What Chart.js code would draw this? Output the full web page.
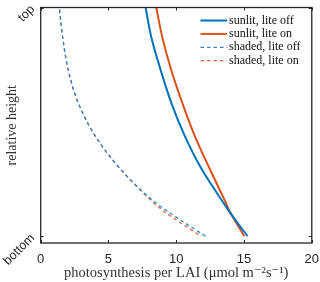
<!DOCTYPE html>
<html><head><meta charset="utf-8">
<script src="https://cdn.jsdelivr.net/npm/chart.js@4/dist/chart.umd.min.js"></script>
<style>html,body{margin:0;padding:0;background:#fff;overflow:hidden}</style>
</head><body>
<canvas id="c" width="320" height="282" style="width:320px;height:282px;display:block"></canvas>
<script>
// relative height (0 = bottom, 1 = top)
const heights    = [0, 0.107, 0.155, 0.297, 0.441, 0.584, 0.727, 0.870, 1.0];
const sunlitOff  = [15.26, 13.92, 13.38, 11.84, 10.61, 9.63, 8.85, 8.16, 7.74];
const sunlitOn   = [15.02, 13.96, 13.59, 12.45, 11.35, 10.44, 9.63, 8.97, 8.53];
const shadedOff  = [12.15, 9.40, 8.28, 5.83, 3.99, 2.76, 2.03, 1.62, 1.37];
const shadedOn   = [11.84, 9.13, 8.16, 5.83, 3.99, 2.76, 2.03, 1.62, 1.37];
const seriesLabels = ['sunlit, lite off', 'sunlit, lite on', 'shaded, lite off', 'shaded, lite on'];
const xTickValues = [0, 5, 10, 15, 20];
const yTickValues = [0, 1];
const yTickLabels = ['bottom', 'top'];
const xTitle = 'photosynthesis per LAI (\u03bcmol m\u207b\u00b2s\u207b\u00b9)';
const yTitle = 'relative height';

const BLUE = '#0072BD', ORANGE = '#D95319', INK = '#262626';
const SERIF = '"Liberation Serif", "DejaVu Serif", serif';
const SANS = '"Liberation Sans", Arial, sans-serif';

function pts(vals){ return vals.map((v,i)=>({x:v, y:heights[i]})); }

const datasets = [
  {label: seriesLabels[0], data: pts(sunlitOff), borderColor: BLUE, borderWidth: 2},
  {label: seriesLabels[1], data: pts(sunlitOn), borderColor: ORANGE, borderWidth: 2},
  {label: seriesLabels[2], data: pts(shadedOff), borderColor: '#2a86cc', borderWidth: 1.3, borderDash: [3.5,3]},
  {label: seriesLabels[3], data: pts(shadedOn), borderColor: '#e06a3a', borderWidth: 1.3, borderDash: [3.5,3], borderDashOffset: 3.25}
].map(d => Object.assign({pointRadius: 0, fill: false, cubicInterpolationMode: 'monotone'}, d));

const framePlugin = {
  id: 'frame',
  afterDatasetsDraw(chart){
    const {ctx, chartArea: a, scales} = chart;
    ctx.save();
    ctx.strokeStyle = INK; ctx.lineWidth = 1.3;
    ctx.strokeRect(a.left, a.top, a.right - a.left, a.bottom - a.top);
    const tl = 3;
    ctx.lineWidth = 1;
    ctx.beginPath();
    xTickValues.forEach(v => {
      const px = Math.round(scales.x.getPixelForValue(v)) + 0.5;
      ctx.moveTo(px, a.bottom); ctx.lineTo(px, a.bottom - tl);
      ctx.moveTo(px, a.top); ctx.lineTo(px, a.top + tl);
    });
    yTickValues.forEach(v => {
      const py = Math.round(scales.y.getPixelForValue(v)) + 0.5;
      ctx.moveTo(a.left, py); ctx.lineTo(a.left + tl, py);
      ctx.moveTo(a.right, py); ctx.lineTo(a.right - tl, py);
    });
    ctx.stroke();
    // legend
    const x0 = 200.5, x1 = 227, tx = 229;
    const rows = [20, 33.4, 46.8, 60.2];
    ctx.font = '12px ' + SERIF;
    ctx.textBaseline = 'middle';
    ctx.textAlign = 'left';
    chart.data.datasets.forEach((d, i) => {
      ctx.beginPath();
      ctx.strokeStyle = d.borderColor;
      ctx.lineWidth = d.borderWidth;
      ctx.setLineDash(d.borderDash || []);
      ctx.moveTo(x0, rows[i] + 0.5); ctx.lineTo(x1, rows[i] + 0.5);
      ctx.stroke();
      ctx.setLineDash([]);
      ctx.fillStyle = '#111';
      ctx.fillText(d.label, tx, rows[i] + 0.5);
    });
    ctx.restore();
  }
};

new Chart(document.getElementById('c'), {
  type: 'line',
  data: {datasets},
  options: {
    responsive: false,
    animation: false,
    indexAxis: 'y',
    layout: {padding: {top: 3, right: 8, left: 0, bottom: 0}},
    plugins: {legend: {display: false}, tooltip: {enabled: false}},
    scales: {
      x: {
        type: 'linear', position: 'bottom', min: 0, max: 20,
        afterBuildTicks: s => { s.ticks = xTickValues.map(v => ({value: v})); },
        afterFit: s => { s.height = 39; },
        grid: {display: false},
        border: {display: false},
        ticks: {color: INK, font: {family: SANS, size: 13}, padding: 1, maxRotation: 0},
        title: {display: true, text: xTitle, color: '#333', font: {family: SERIF, size: 14.5}, padding: {top: 0, bottom: 0}}
      },
      y: {
        type: 'linear', position: 'left', min: -0.03, max: 1,
        afterBuildTicks: s => { s.ticks = yTickValues.map(v => ({value: v})); },
        afterFit: s => { s.width = 40.7; },
        grid: {display: false},
        border: {display: false},
        ticks: {color: INK, font: {family: SANS, size: 12.5}, padding: 0, minRotation: 45, maxRotation: 45,
          callback: v => { const i = yTickValues.indexOf(v); return i >= 0 ? yTickLabels[i] : ''; }},
        title: {display: true, text: yTitle, color: '#333', font: {family: SERIF, size: 14}, padding: {top: 4, bottom: 0}}
      }
    }
  },
  plugins: [framePlugin]
});
</script>
</body></html>
